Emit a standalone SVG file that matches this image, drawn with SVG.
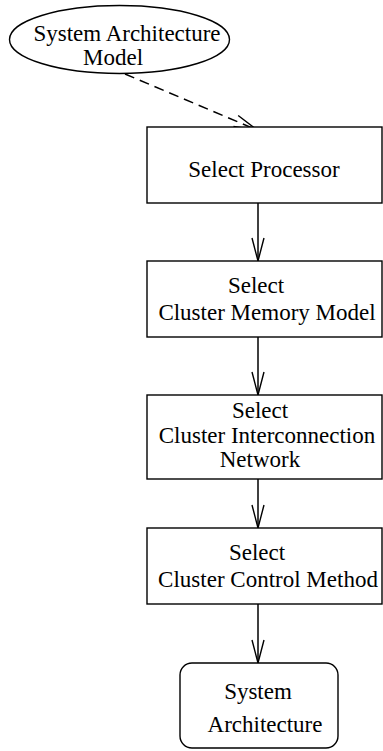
<svg xmlns="http://www.w3.org/2000/svg" width="383" height="751" viewBox="0 0 383 751">
  <style>
    .shape { fill: #fff; stroke: #000; stroke-width: 1.4; }
    .label { font-family: "Liberation Serif", "Times New Roman", serif; font-size: 23px; fill: #000; text-anchor: middle; }
    .flow { fill: none; stroke: #000; stroke-width: 1.5; marker-end: url(#openHead); }
    .dashed { stroke-dasharray: 10 6; }
  </style>
  <defs>
    <marker id="openHead" markerUnits="userSpaceOnUse" viewBox="0 0 26 14" refX="24" refY="7" markerWidth="26" markerHeight="14" orient="auto">
      <path d="M1,1 L24,7 L1,13" fill="none" stroke="#000" stroke-width="1.4"/>
    </marker>
  </defs>

  <rect width="383" height="751" fill="#fff"/>

  <g id="connectors">
    <path class="flow dashed" d="M125,74 L257,130"/>
    <path class="flow" d="M258,203 L258,261"/>
    <path class="flow" d="M258,337 L258,395"/>
    <path class="flow" d="M258,479 L258,528"/>
    <path class="flow" d="M258,604 L258,663"/>
  </g>

  <g id="system-architecture-model">
    <ellipse class="shape" cx="119.5" cy="39.5" rx="110" ry="34"/>
    <text class="label" x="127" y="41">System Architecture</text>
    <text class="label" x="113" y="65">Model</text>
  </g>

  <g id="select-processor">
    <rect class="shape" x="147" y="127" width="235" height="76"/>
    <text class="label" x="264" y="177">Select Processor</text>
  </g>

  <g id="select-memory-model">
    <rect class="shape" x="147" y="261" width="235" height="76"/>
    <text class="label" x="256" y="293">Select</text>
    <text class="label" x="267" y="320">Cluster Memory Model</text>
  </g>

  <g id="select-interconnection">
    <rect class="shape" x="147" y="395" width="235" height="84"/>
    <text class="label" x="260" y="418">Select</text>
    <text class="label" x="267" y="443">Cluster Interconnection</text>
    <text class="label" x="260" y="467">Network</text>
  </g>

  <g id="select-control-method">
    <rect class="shape" x="147" y="528" width="235" height="76"/>
    <text class="label" x="257" y="560">Select</text>
    <text class="label" x="268" y="587">Cluster Control Method</text>
  </g>

  <g id="system-architecture">
    <rect class="shape" x="180" y="663" width="158" height="85" rx="12" ry="12"/>
    <text class="label" x="258" y="699">System</text>
    <text class="label" x="265" y="732">Architecture</text>
  </g>
</svg>
